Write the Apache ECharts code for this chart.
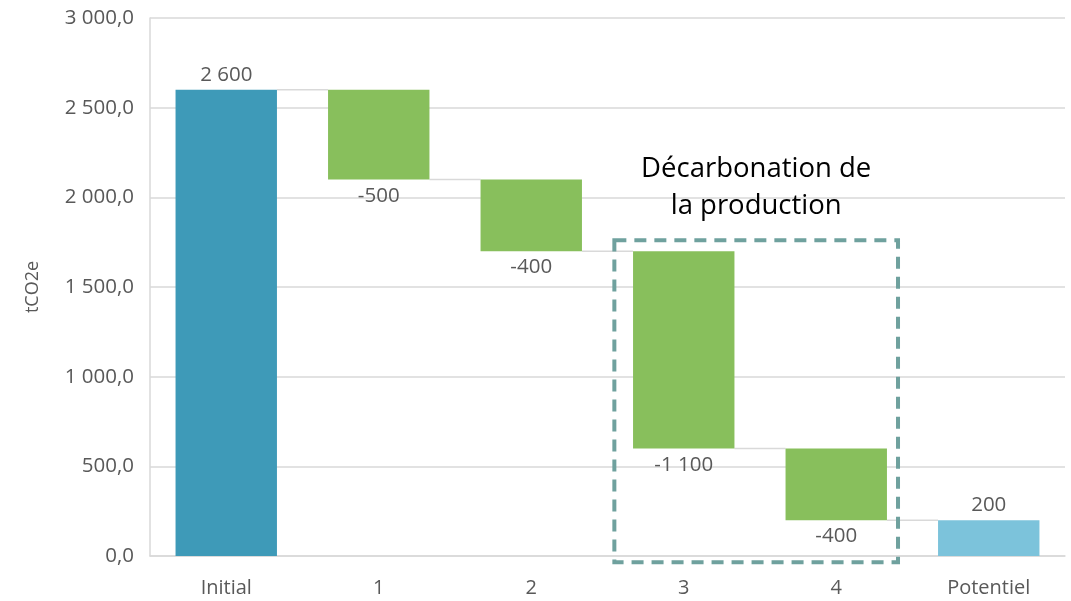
<!DOCTYPE html>
<html>
<head>
<meta charset="utf-8">
<script src="https://cdn.jsdelivr.net/npm/echarts@6/dist/echarts.min.js"></script>
<style>
  html, body { margin: 0; padding: 0; background: #fff; }
  #chart { width: 1071px; height: 601px; }
</style>
</head>
<body>
<div id="chart"></div>
<script>
// Waterfall of emissions (tCO2e): starting total, four reductions, remaining potential
const categories = ['Initial', '1', '2', '3', '4', 'Potentiel'];
const values = [2600, -500, -400, -1100, -400, 200];
const kinds = ['total', 'delta', 'delta', 'delta', 'delta', 'total'];
const yTicks = [0, 500, 1000, 1500, 2000, 2500, 3000];

// Grouped-steps annotation
const noteLines = ['Décarbonation de', 'la production'];
const noteFrom = 3, noteTo = 4;      // category indexes covered by the box
const noteTop = 1760, noteBottom = -35;

const FONT = '"Open Sans", "Noto Sans", sans-serif';
const GREY_TEXT = '#595959';
const colors = { first: '#3e9ab8', delta: '#88bf5c', last: '#7cc3db' };

function fmtInt(v) {
  const s = Math.abs(Math.round(v)).toString().replace(/\B(?=(\d{3})+(?!\d))/g, ' ');
  return (v < 0 ? '-' : '') + s;
}
function fmtAxis(v) {
  const s = Math.floor(v).toString().replace(/\B(?=(\d{3})+(?!\d))/g, ' ');
  return s + ',0';
}

// Running levels -> invisible base + visible segment
const base = [], segs = [], levels = [];
let level = 0;
values.forEach((v, i) => {
  if (kinds[i] === 'total') {
    base.push(0);
    segs.push(v);
    level = v;
  } else {
    const end = level + v;
    base.push(Math.min(level, end));
    segs.push(Math.abs(v));
    level = end;
  }
  levels.push(level);
});

const segData = segs.map((h, i) => {
  const isTotal = kinds[i] === 'total';
  const color = i === 0 ? colors.first : (isTotal ? colors.last : colors.delta);
  return {
    value: h,
    itemStyle: { color },
    label: isTotal ? { position: 'top', distance: 4 } : { position: 'bottom', distance: 6 }
  };
});

// connector lines between consecutive bars
const connectorData = levels.slice(0, -1).map((lv, i) => [i, lv]);
const BAR_RATIO = 0.665;

const chart = echarts.init(document.getElementById('chart'), null, { renderer: 'canvas' });

chart.setOption({
  animation: false,
  backgroundColor: '#ffffff',
  grid: { left: 150, right: 6, top: 18, bottom: 45, containLabel: false },
  xAxis: {
    type: 'category',
    data: categories,
    axisLine: { show: true, lineStyle: { color: '#d9d9d9', width: 1.5 } },
    axisTick: { show: false },
    axisLabel: { color: GREY_TEXT, fontFamily: FONT, fontSize: 20, margin: 22 }
  },
  yAxis: {
    type: 'value',
    min: yTicks[0],
    max: yTicks[yTicks.length - 1],
    interval: yTicks[1] - yTicks[0],
    name: 'tCO2e',
    nameLocation: 'middle',
    nameRotate: 90,
    nameGap: 108,
    nameTextStyle: { color: GREY_TEXT, fontFamily: FONT, fontSize: 18 },
    axisLine: { show: true, lineStyle: { color: '#d9d9d9', width: 1.5 } },
    axisTick: { show: false },
    splitLine: { show: true, lineStyle: { color: '#d9d9d9', width: 1.5 } },
    axisLabel: { color: GREY_TEXT, fontFamily: FONT, fontSize: 20.5, margin: 16, formatter: fmtAxis }
  },
  series: [
    {
      name: 'base',
      type: 'bar',
      stack: 'wf',
      data: base,
      barWidth: (BAR_RATIO * 100) + '%',
      itemStyle: { color: 'transparent' },
      emphasis: { disabled: true },
      silent: true
    },
    {
      name: 'tCO2e',
      type: 'bar',
      stack: 'wf',
      data: segData,
      barWidth: (BAR_RATIO * 100) + '%',
      label: {
        show: true,
        color: GREY_TEXT,
        fontFamily: FONT,
        fontSize: 20.5,
        formatter: p => fmtInt(values[p.dataIndex])
      },
      emphasis: { disabled: true }
    },
    {
      name: 'connectors',
      type: 'custom',
      silent: true,
      z: 1,
      data: connectorData,
      renderItem: function (params, api) {
        const i = api.value(0);
        const lv = api.value(1);
        const p1 = api.coord([i, lv]);
        const p2 = api.coord([i + 1, lv]);
        const half = api.size([1, 0])[0] * BAR_RATIO / 2;
        return {
          type: 'line',
          shape: { x1: p1[0] + half, y1: p1[1], x2: p2[0] - half, y2: p2[1] },
          style: { stroke: '#d9d9d9', lineWidth: 1.5 }
        };
      }
    }
  ]
});

// Dashed box and title around the grouped steps
function drawNote() {
  const band = chart.getModel().getComponent('xAxis', 0).axis.getBandWidth();
  const a = chart.convertToPixel({ gridIndex: 0 }, [noteFrom, noteTop]);
  const b = chart.convertToPixel({ gridIndex: 0 }, [noteTo, noteBottom]);
  const x1 = a[0] - band * 0.455, x2 = b[0] + band * 0.405;
  const y1 = a[1], y2 = b[1];
  chart.setOption({
    graphic: [
      {
        type: 'rect',
        z: 10,
        shape: { x: x1, y: y1, width: x2 - x1, height: y2 - y1 },
        style: { fill: 'none', stroke: '#6fa19e', lineWidth: 4, lineDash: [12, 8] }
      },
      {
        type: 'text',
        z: 10,
        x: (x1 + x2) / 2,
        y: y1 - 16,
        style: {
          text: noteLines.join('\n'),
          fill: '#000000',
          font: '27.5px ' + FONT,
          lineHeight: 37,
          align: 'center',
          verticalAlign: 'bottom'
        }
      }
    ]
  });
}
drawNote();
</script>
</body>
</html>
